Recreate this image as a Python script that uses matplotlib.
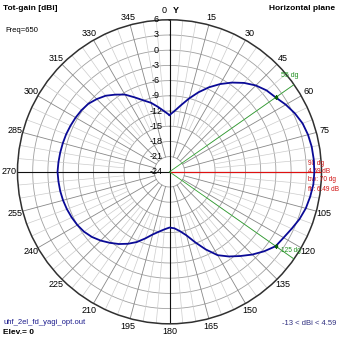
import numpy as np
import matplotlib.pyplot as plt

plt.rcParams['font.family'] = ['Liberation Sans', 'DejaVu Sans']

# horizontal plane pattern, total gain in dBi every 5 degrees (0 = Y axis, clockwise)
azimuth_deg = list(range(0, 365, 5))
gain_dbi = [
    -12.8, -11.9, -10.6, -9.0, -7.3, -5.6, -4.0, -2.5, -1.1, 0.1,   # 0..45
    1.0, 1.59, 2.5, 3.3, 3.95, 4.3, 4.5, 4.57, 4.59,                # 50..90
    4.5, 4.2, 3.85, 3.3, 2.6, 2.0, 1.59, 0.4, -0.9, -2.3,           # 95..140
    -3.6, -5.0, -7.1, -9.2, -11.0, -12.1, -12.8, -13.0,             # 145..180
    -12.6, -12.0, -11.2, -10.0, -8.7, -7.6, -6.6, -5.7, -4.8,       # 185..225
    -4.0, -3.4, -3.0, -2.7, -2.45, -2.25, -2.1, -2.0, -1.9,         # 230..270
    -2.0, -2.1, -2.2, -2.3, -2.45, -2.6, -2.8, -3.1, -3.7,          # 275..315
    -4.4, -5.4, -6.4, -7.8, -9.0, -9.9, -11.0, -12.0, -12.8,        # 320..360
]

ring_db = [-24, -21, -18, -15, -12, -9, -6, -3, 0, 3, 6]
angle_labels = [0, 15, 30, 45, 60, 75, 105, 120, 135, 150, 165, 180,
                195, 210, 225, 240, 255, 270, 285, 300, 315, 330, 345]

max_dir, max_gain = 90, 4.59
beam_edges = [55, 125]
half_power = 1.59
beamwidth, front_back = 70, 6.49
min_gain = -13

r_min, r_max = ring_db[0], ring_db[-1]

fig = plt.figure(figsize=(3.39, 3.39), dpi=100)
ax = fig.add_axes([0.0516, 0.0448, 0.8968, 0.8968], projection='polar')
ax.set_theta_zero_location('N')
ax.set_theta_direction(-1)
ax.set_ylim(r_min, r_max)
ax.grid(False)
ax.set_xticks([])
ax.set_yticks([])
ax.spines['polar'].set_color('#303030')
ax.spines['polar'].set_linewidth(1.1)

full = np.linspace(0, 2 * np.pi, 361)
for r in ring_db[1:-1]:
    ax.plot(full, np.full_like(full, r), color='#a0a0a0', lw=0.6, zorder=1)

# spokes: axes black, 15 deg grey, 5 deg light grey
for a in range(0, 360, 5):
    t = np.deg2rad(a)
    if a % 90 == 0:
        ax.plot([t, t], [r_min, r_max], color='#101010', lw=0.8, zorder=2)
    elif a % 15 == 0:
        ax.plot([t, t], [-21, r_max], color='#888888', lw=0.6, zorder=1)
    else:
        ax.plot([t, t], [-15, r_max], color='#cccccc', lw=0.5, zorder=1)

for a in angle_labels:
    t = np.deg2rad(a)
    if a == 0:
        ax.annotate('0', xy=(t, r_max), xytext=(-4, 6.5), textcoords='offset points',
                    ha='center', va='center', fontsize=6.5)
    else:
        ax.text(t, r_max + 1.58, str(a), ha='center', va='center', fontsize=6.5)
ax.annotate('Y', xy=(0, r_max), xytext=(4.5, 6.5), textcoords='offset points',
            ha='center', va='center', fontsize=6.5, fontweight='bold')

for r in ring_db:
    ax.annotate(str(r), xy=(0, r), xytext=(-9.7, 0), textcoords='offset points',
                ha='center', va='center', fontsize=6.5)

# max direction (red) and -3 dB points (green)
tm = np.deg2rad(max_dir)
ax.plot([tm, tm], [r_min, r_max], color='#e01010', lw=0.8, zorder=3)
red_lines = [f'{max_dir} dg', f'{max_gain} dB', f'bw: {beamwidth} dg', f'fb: {front_back} dB']
for txt, dy in zip(red_lines, [6.1, 0, -5.9, -12.7]):
    ax.annotate(txt, xy=(tm, r_max), xytext=(-10, dy), textcoords='offset points',
                ha='left', va='center', fontsize=4.7, color='#d01010')

for a in beam_edges:
    t = np.deg2rad(a)
    ax.plot([t, t], [r_min, r_max], color='#30a030', lw=0.6, zorder=3)
    ax.plot(t, half_power, 's', color='#0c600c', ms=2, zorder=5)
ax.annotate(f'{beam_edges[0]} dg', xy=(np.deg2rad(beam_edges[0]), r_max), xytext=(3, 4),
            textcoords='offset points', ha='right', va='bottom', fontsize=5, color='#209020')
ax.annotate(f'{beam_edges[1]} dg', xy=(np.deg2rad(beam_edges[1]), half_power), xytext=(3.6, -3.4),
            textcoords='offset points', ha='left', va='center', fontsize=4.7, color='#209020')

ax.plot(np.deg2rad(azimuth_deg), gain_dbi, color='#0a0a96', lw=1.3, zorder=4)

fig.text(3 / 339, 1 - 9 / 339, 'Tot-gain [dBi]', fontsize=6, fontweight='bold', va='center')
fig.text(5 / 339, 1 - 30 / 339, 'Freq=650', fontsize=5.5, va='center')
fig.text(335 / 339, 1 - 9 / 339, 'Horizontal plane', fontsize=6, fontweight='bold',
         va='center', ha='right')
fig.text(3 / 339, 1 - 322.5 / 339, 'uhf_2el_fd_yagi_opt.out', fontsize=5.5, va='center',
         color='#1a1a8c')
fig.text(3 / 339, 1 - 333 / 339, 'Elev.= 0', fontsize=6, fontweight='bold', va='center')
fig.text(336 / 339, 1 - 323.5 / 339, f'{min_gain} < dBi < {max_gain}', fontsize=5.5,
         va='center', ha='right', color='#303080')

fig.savefig('out.png', dpi=100)
